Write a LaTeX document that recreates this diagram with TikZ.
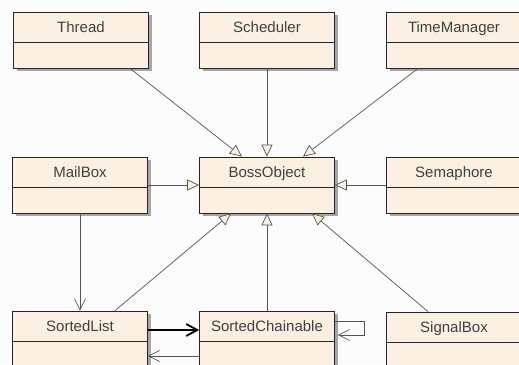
\documentclass[tikz,border=0pt]{standalone}
\usepackage{fontspec}
\setmainfont{Liberation Sans}
\usepackage{tikz}
\usetikzlibrary{arrows.meta,positioning,calc,shadows}
\definecolor{classfill}{RGB}{251,240,226}
\definecolor{lineclr}{RGB}{85,85,85}

\begin{document}
\begin{tikzpicture}[
    x=1pt, y=-1pt,
    class/.style={draw=black!85, fill=classfill, line width=0.8pt,
        minimum width=135pt, minimum height=56pt, inner sep=0pt,
        text height=20pt, text depth=36pt, text=black!75,
        font=\fontsize{15}{18}\selectfont,
        drop shadow={shadow xshift=3pt, shadow yshift=-3pt, fill=black!35, opacity=1},
        path picture={\draw[black!85, line width=0.8pt]
            ([yshift=-30pt]path picture bounding box.north west) --
            ([yshift=-30pt]path picture bounding box.north east);}},
    inherit/.style={draw=lineclr, line width=0.7pt,
        -{Triangle[length=12pt, width=11pt, fill=classfill]}},
    assoc/.style={draw=lineclr, line width=0.7pt,
        -{Straight Barb[length=11pt, width=11pt]}},
    strong/.style={draw=black, line width=1.8pt,
        -{Straight Barb[length=11pt, width=12pt]}}
]
    % Background
    \fill[black!1] (0,0) rectangle (519,364);
    \useasboundingbox (0,0) rectangle (519,364);

    % Classes
    \node[class] (thread)    at (81,40)   {Thread};
    \node[class] (sched)     at (267,40)  {Scheduler};
    \node[class] (timemgr)   at (454,40)  {TimeManager};
    \node[class] (mailbox)   at (80,185)  {MailBox};
    \node[class] (boss)      at (267,185) {BossObject};
    \node[class] (semaphore) at (454,185) {Semaphore};
    \node[class] (sortlist)  at (80,339)  {SortedList};
    \node[class] (chain)     at (267,339) {SortedChainable};
    \node[class] (signalbox) at (454,340) {SignalBox};

    % Inheritance
    \draw[inherit] ([xshift=49pt]thread.south) -- ([xshift=-25pt]boss.north);
    \draw[inherit] (sched.south) -- (boss.north);
    \draw[inherit] ([xshift=-36pt]timemgr.south) -- ([xshift=36pt]boss.north);
    \draw[inherit] (mailbox.east) -- (boss.west);
    \draw[inherit] (semaphore.west) -- (boss.east);
    \draw[inherit] ([xshift=35pt]sortlist.north) -- ([xshift=-36pt]boss.south);
    \draw[inherit] (chain.north) -- (boss.south);
    \draw[inherit] ([xshift=-26pt]signalbox.north) -- ([xshift=45pt]boss.south);

    % Associations
    \draw[assoc] (mailbox.south) -- (sortlist.north);
    \draw[strong] ([yshift=9pt]sortlist.east) -- ([yshift=9pt]chain.west);
    \draw[assoc] ([yshift=-17pt]chain.west) -- ([yshift=-17pt]sortlist.east);
    \draw[assoc] ([yshift=18pt]chain.east) -- ++(29pt,0pt) -- ++(0pt,-14pt)
        -- ([shift={(3pt,4pt)}]chain.east);
\end{tikzpicture}
\end{document}
